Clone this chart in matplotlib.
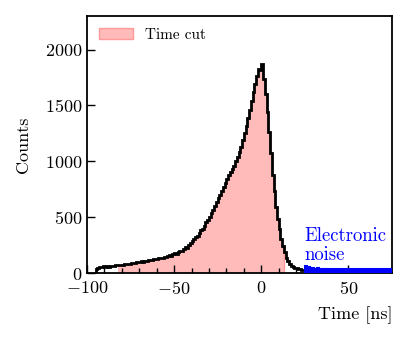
import numpy as np
import matplotlib
matplotlib.use("Agg")
import matplotlib.pyplot as plt

plt.rcParams.update({
    "font.family": "serif",
    "font.serif": ["cmr10"],
    "mathtext.fontset": "cm",
    "axes.formatter.use_mathtext": True,
    "axes.unicode_minus": True,
})

# Histogram of signal times, 1 ns bins starting at -95 ns
time_start = -95
counts = [38, 45, 55, 52, 60, 58, 62, 57, 63, 66, 61, 68, 72, 70, 76, 74, 80, 78, 84, 82,
          90, 87, 93, 98, 95, 101, 105, 102, 110, 108, 114, 119, 116, 123, 121, 128, 133, 130, 138, 145,
          141, 150, 158, 155, 166, 175, 172, 188, 200, 196, 218, 232, 228, 255, 272, 290, 302, 318, 335, 362,
          385, 398, 425, 455, 470, 505, 540, 568, 600, 635, 668, 700, 735, 770, 808, 845, 880, 905, 930, 960,
          1000, 1040, 1080, 1130, 1190, 1250, 1320, 1390, 1460, 1540, 1620, 1690, 1760, 1830, 1820, 1870,
          1740, 1600, 1440, 1260, 1070, 880, 730, 590, 480, 390, 305, 240, 185, 135, 105, 82, 66, 56, 48, 42,
          38, 34, 31, 29]

# Electronic noise, 1 ns bins starting at 25 ns
noise_start = 25
noise = [62, 58, 52, 46, 42, 40, 38, 41, 37, 39, 40, 38, 36, 39, 40, 37, 38, 36, 37, 39,
         40, 37, 36, 38, 37, 36, 38, 37, 39, 36, 37, 38, 36, 37, 35, 37, 36, 38, 36, 37,
         35, 36, 37, 36, 35, 37, 36, 35, 36, 35]

cut_lo, cut_hi = -82, 13

counts = np.array(counts, dtype=float)
edges = np.arange(len(counts) + 1) + time_start
noise = np.array(noise, dtype=float)
noise_edges = np.arange(len(noise) + 1) + noise_start

fig = plt.figure(figsize=(4.08, 3.40), dpi=100)
ax = fig.add_axes([0.213, 0.197, 0.748, 0.756])

i0 = cut_lo - time_start
i1 = cut_hi - time_start
ax.stairs(counts[i0:i1], edges[i0:i1 + 1], fill=True, facecolor="#ffbaba",
          edgecolor="none", label="Time cut", zorder=1)
ax.plot([cut_hi, cut_hi], [0, counts[i1 - 1]], color="#ff9a9a", lw=1.0, zorder=1.5)
ax.stairs(counts, edges, color="black", lw=2.0, zorder=3)
ax.stairs(noise, noise_edges, fill=True, facecolor="blue", edgecolor="blue", lw=1.5, zorder=4)

ax.text(25, 85, "Electronic\nnoise", color="blue", fontsize=13.5, ha="left", va="bottom",
        linespacing=1.05, zorder=5)

ax.set_xlim(-100, 75)
ax.set_ylim(0, 2300)
ax.set_xticks([-100, -50, 0, 50])
ax.set_xticks(np.arange(-90, 75, 10), minor=True)
ax.set_yticks([0, 500, 1000, 1500, 2000])
ax.tick_params(which="both", direction="in", labelsize=13)
ax.tick_params(axis="x", which="major", pad=5)
ax.tick_params(which="major", length=6, width=1.0)
ax.tick_params(which="minor", length=3.5, width=1.0)
for s in ax.spines.values():
    s.set_linewidth(1.3)

ax.set_ylabel("Counts", fontsize=13, labelpad=10)
ax.set_xlabel("Time [ns]", fontsize=13, loc="right", labelpad=7)

leg_handle = matplotlib.patches.Patch(facecolor="#ffbaba", edgecolor="#ff9a9a", lw=1.0)
ax.legend([leg_handle], ["Time cut"], loc="upper left", frameon=False, fontsize=11,
          handlelength=2.2, borderaxespad=0.4)

fig.savefig("out.png", dpi=100)
